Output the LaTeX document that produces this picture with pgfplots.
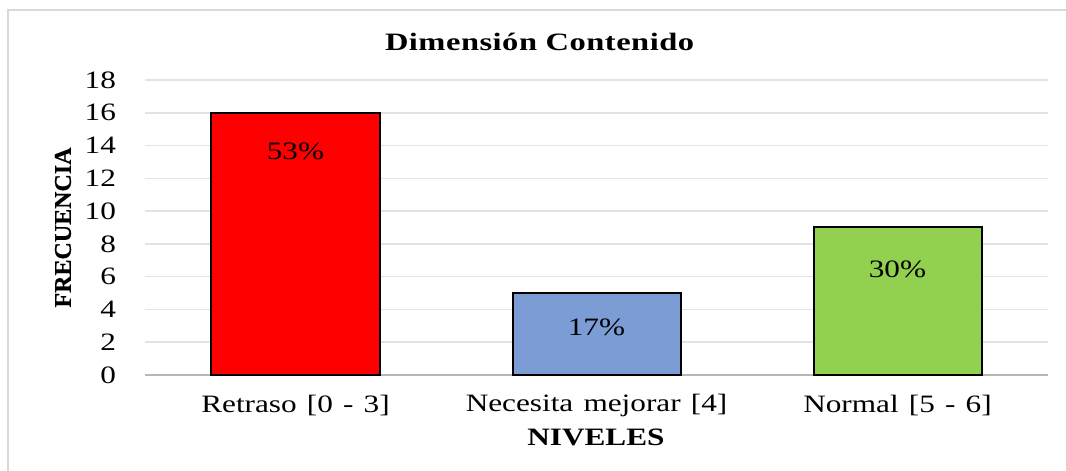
\documentclass[border=0pt]{standalone}
\usepackage{fontspec}
\setmainfont{Liberation Serif}[FakeStretch=1.25,WordSpace=1.3]
\newfontfamily\plainserif{Liberation Serif}[FakeBold=0.6]
\newfontfamily\titlefont{Liberation Serif}[FakeStretch=1.3,LetterSpace=2]
\usepackage{pgfplots}
\pgfplotsset{compat=1.18}
\definecolor{barred}{HTML}{FF0000}
\definecolor{barblue}{HTML}{7B9CD5}
\definecolor{bargreen}{HTML}{92D050}
\definecolor{gridgray}{HTML}{E3E3E3}
\definecolor{axgray}{HTML}{B8B8B8}
\definecolor{framegray}{HTML}{D9D9D9}
\begin{document}
\begin{tikzpicture}
\useasboundingbox (-72.5pt,-48pt) rectangle (460.5pt,187.5pt);
\draw[framegray, line width=1pt] (-68.5pt,-48pt) -- (-68.5pt,182.5pt) -- (460.5pt,182.5pt);
\begin{axis}[
  at={(0,0)}, anchor=south west,
  scale only axis,
  width=451.5pt, height=147.5pt,
  xmin=-0.5, xmax=2.5,
  ymin=0, ymax=18,
  ytick={0,2,...,18},
  xtick={0,1,2},
  xticklabels={Retraso [0 - 3],Necesita mejorar [4],Normal [5 - 6]},
  major tick length=0pt,
  axis line style={draw=none},
  ymajorgrids,
  grid style={gridgray, line width=0.8pt},
  extra y ticks={0},
  extra y tick labels={},
  extra y tick style={grid style={axgray, line width=1pt}},
  /pgf/number format/assume math mode=true,
  tick label style={font=\fontsize{12.5}{14}\selectfont},
  yticklabel style={xshift=-11pt},
  xticklabel style={anchor=center, yshift=-15pt},
  ybar, bar width=84pt, bar shift=0pt,
  nodes near coords,
  point meta=explicit symbolic,
  every node near coord/.style={anchor=center, font=\fontsize{12.5}{14}\selectfont, text=black},
  clip=false,
]
\addplot[fill=barred, draw=black, line width=1pt, every node near coord/.append style={yshift=-19.5pt}] coordinates {(0,16) [53\%]};
\addplot[fill=barblue, draw=black, line width=1pt, every node near coord/.append style={yshift=-17pt}] coordinates {(1,5) [17\%]};
\addplot[fill=bargreen, draw=black, line width=1pt, every node near coord/.append style={yshift=-21pt}] coordinates {(2,9) [30\%]};
\node[font=\titlefont\bfseries\fontsize{12.5}{14}\selectfont, anchor=center] at (axis description cs:0.437,1.129) {Dimensión Contenido};
\node[font=\bfseries\fontsize{12.5}{14}\selectfont, anchor=center] at (axis description cs:0.4994,-0.210) {NIVELES};
\node[font=\plainserif\bfseries\fontsize{12}{14}\selectfont, rotate=90, anchor=center] at (axis description cs:-0.0908,0.5) {FRECUENCIA};
\end{axis}
\end{tikzpicture}
\end{document}
